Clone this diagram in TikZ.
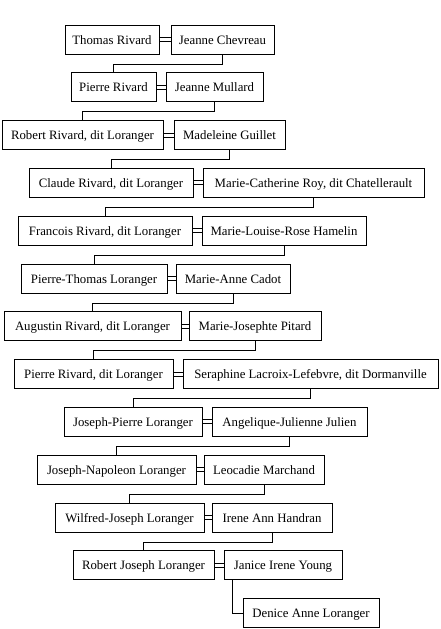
\documentclass[tikz,border=0pt]{standalone}
\usepackage{fontspec}
\setmainfont{Liberation Serif}
\usepackage{tikz}
\usetikzlibrary{calc}

\tikzset{
  person/.style={draw,line width=1pt,minimum height=29pt,inner sep=0pt,
    text height=9.2pt,text depth=0pt,
    font=\fontsize{12.8}{14}\selectfont},
  wed/.style={double,double distance=3pt,line width=1pt},
  descent/.style={line width=1pt},
}

\begin{document}
\begin{tikzpicture}[x=1pt,y=-1pt]
  \useasboundingbox (0,0) rectangle (440,629);
  % generations, top to bottom
  \node[person,minimum width=94pt]  (thomas)     at (112,39.5)    {Thomas Rivard};
  \node[person,minimum width=103pt] (jeannec)    at (222.5,39.5)  {Jeanne Chevreau};
  \node[person,minimum width=85pt]  (pierre)     at (113.5,87.3)  {Pierre Rivard};
  \node[person,minimum width=97pt]  (jeannem)    at (214.5,87.3)  {Jeanne Mullard};
  \node[person,minimum width=161pt] (robert)     at (82.5,135.1)  {Robert Rivard, dit Loranger};
  \node[person,minimum width=111pt] (madeleine)  at (229.5,135.1) {Madeleine Guillet};
  \node[person,minimum width=164pt] (claude)     at (111,182.9)   {Claude Rivard, dit Loranger};
  \node[person,minimum width=221pt] (mcatherine) at (313.5,182.9) {Marie-Catherine Roy, dit Chatellerault};
  \node[person,minimum width=174pt] (francois)   at (105,230.7)   {Francois Rivard, dit Loranger};
  \node[person,minimum width=164pt] (mlrose)     at (284,230.7)   {Marie-Louise-Rose Hamelin};
  \node[person,minimum width=146pt] (pthomas)    at (94,278.5)    {Pierre-Thomas Loranger};
  \node[person,minimum width=114pt] (manne)      at (233,278.5)   {Marie-Anne Cadot};
  \node[person,minimum width=177pt] (augustin)   at (92.5,326.3)  {Augustin Rivard, dit Loranger};
  \node[person,minimum width=132pt] (mjosephte)  at (255,326.3)   {Marie-Josephte Pitard};
  \node[person,minimum width=159pt] (pierrel)    at (93.5,374.1)  {Pierre Rivard, dit Loranger};
  \node[person,minimum width=255pt] (seraphine)  at (310.5,374.1) {Seraphine Lacroix-Lefebvre, dit Dormanville};
  \node[person,minimum width=138pt] (jpierre)    at (133,421.9)   {Joseph-Pierre Loranger};
  \node[person,minimum width=155pt] (angelique)  at (289.5,421.9) {Angelique-Julienne Julien};
  \node[person,minimum width=159pt] (jnapoleon)  at (116.5,469.7) {Joseph-Napoleon Loranger};
  \node[person,minimum width=120pt] (leocadie)   at (264,469.7)   {Leocadie Marchand};
  \node[person,minimum width=149pt] (wilfred)    at (129.5,517.5) {Wilfred-Joseph Loranger};
  \node[person,minimum width=120pt] (irene)      at (272,517.5)   {Irene Ann Handran};
  \node[person,minimum width=141pt] (robertj)    at (143.5,565.3) {Robert Joseph Loranger};
  \node[person,minimum width=118pt] (janice)     at (283,565.3)   {Janice Irene Young};
  \node[person,minimum width=136pt] (denice)     at (311,613.1)   {Denice Anne Loranger};

  % marriages
  \draw[wed] (thomas.east) -- (jeannec.west);
  \draw[wed] (pierre.east) -- (jeannem.west);
  \draw[wed] (robert.east) -- (madeleine.west);
  \draw[wed] (claude.east) -- (mcatherine.west);
  \draw[wed] (francois.east) -- (mlrose.west);
  \draw[wed] (pthomas.east) -- (manne.west);
  \draw[wed] (augustin.east) -- (mjosephte.west);
  \draw[wed] (pierrel.east) -- (seraphine.west);
  \draw[wed] (jpierre.east) -- (angelique.west);
  \draw[wed] (jnapoleon.east) -- (leocadie.west);
  \draw[wed] (wilfred.east) -- (irene.west);
  \draw[wed] (robertj.east) -- (janice.west);

  % children
  \draw[descent] (jeannec.south) -- ++(0,9.5) -| (pierre.north);
  \draw[descent] (jeannem.south) -- ++(0,9.5) -| (robert.north);
  \draw[descent] (madeleine.south) -- ++(0,9.5) -| (claude.north);
  \draw[descent] (mcatherine.south) -- ++(0,9.5) -| (francois.north);
  \draw[descent] (mlrose.south) -- ++(0,9.5) -| (pthomas.north);
  \draw[descent] (manne.south) -- ++(0,9.5) -| (augustin.north);
  \draw[descent] (mjosephte.south) -- ++(0,9.5) -| (pierrel.north);
  \draw[descent] (seraphine.south) -- ++(0,9.5) -| (jpierre.north);
  \draw[descent] (angelique.south) -- ++(0,9.5) -| (jnapoleon.north);
  \draw[descent] (leocadie.south) -- ++(0,9.5) -| (wilfred.north);
  \draw[descent] (irene.south) -- ++(0,9.5) -| (robertj.north);
  \draw[descent] ([xshift=9pt]janice.south west) |- (denice.west);
\end{tikzpicture}
\end{document}
